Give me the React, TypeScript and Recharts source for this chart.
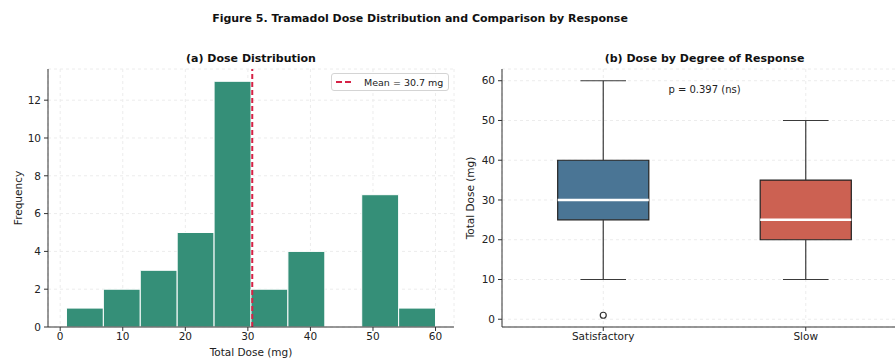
import React from "react";
import {
  ComposedChart,
  XAxis,
  YAxis,
  CartesianGrid,
  ReferenceArea,
  ReferenceLine,
  ReferenceDot,
  Scatter,
  Legend,
  Label,
} from "recharts";

// (a) histogram
const binEdges = [1, 6.9, 12.8, 18.7, 24.6, 30.5, 36.4, 42.3, 48.2, 54.1, 60];
const binCounts = [1, 2, 3, 5, 13, 2, 4, 0, 7, 1];
const meanDose = 30.7;
const histXTicks = [0, 10, 20, 30, 40, 50, 60];
const histYTicks = [0, 2, 4, 6, 8, 10, 12];

// (b) boxplot
const groups = ["Satisfactory", "Slow"];
const groupPos = [1, 2];
const whiskerLow = [10, 10];
const q1 = [25, 20];
const median = [30, 25];
const q3 = [40, 35];
const whiskerHigh = [60, 50];
const outliers = [{ x: 1, y: 1 }];
const boxYTicks = [0, 10, 20, 30, 40, 50, 60];
const pValueText = "p = 0.397 (ns)";

const boxColors = ["#4a7595", "#cc6152"];
const FONT = "'DejaVu Sans', Verdana, sans-serif";
const tick = { fill: "#222", fontSize: 10.5, fontFamily: FONT };
const axisStroke = { stroke: "#333", strokeWidth: 1 };
const labelStyle = { fontSize: 10.5, fontFamily: FONT, fill: "#222" };

const bins = binCounts.map((count, i) => ({ start: binEdges[i], end: binEdges[i + 1], count }));

const MeanLegend = () => (
  <div
    style={{
      width: 116,
      height: 16,
      border: "1px solid #d4d4d4",
      borderRadius: 3,
      background: "rgba(255,255,255,0.85)",
      display: "flex",
      alignItems: "center",
      fontSize: 9.5,
      fontFamily: FONT,
      color: "#222",
    }}
  >
    <svg width={20} height={8} style={{ marginLeft: 4, marginRight: 8 }}>
      <line x1={0} y1={4} x2={18} y2={4} stroke="#d62246" strokeWidth={2} strokeDasharray="6 3" />
    </svg>
    <span>{`Mean = ${meanDose} mg`}</span>
  </div>
);

const titleStyle: React.CSSProperties = {
  position: "absolute",
  fontFamily: FONT,
  fontWeight: "bold",
  fontSize: 11,
  color: "#111",
  textAlign: "center",
  whiteSpace: "nowrap",
};

export default function App() {
  const halfBox = 0.225;
  const halfCap = 0.1125;
  return (
    <div
      style={{
        position: "absolute",
        left: 0,
        top: 0,
        width: 895,
        height: 358,
        overflow: "hidden",
        background: "#fff",
      }}
    >
      <div style={{ ...titleStyle, left: 120, width: 600, top: 12 }}>
        Figure 5. Tramadol Dose Distribution and Comparison by Response
      </div>
      <div style={{ ...titleStyle, left: 48, width: 406, top: 52 }}>(a) Dose Distribution</div>
      <div style={{ ...titleStyle, left: 502, width: 405, top: 52 }}>(b) Dose by Degree of Response</div>

      <div style={{ position: "absolute", left: 0, top: 0 }}>
        <ComposedChart width={470} height={358} data={bins} margin={{ top: 69, right: 16, bottom: 0, left: 0 }}>
          <CartesianGrid stroke="#ececec" strokeDasharray="3 3" />
          <XAxis
            type="number"
            dataKey="start"
            domain={[-1.95, 62.95]}
            ticks={histXTicks}
            allowDataOverflow
            height={31}
            tick={tick}
            tickSize={4}
            tickMargin={2}
            axisLine={axisStroke}
            tickLine={axisStroke}
          >
            <Label value="Total Dose (mg)" position="insideBottom" offset={2} style={labelStyle} />
          </XAxis>
          <YAxis
            type="number"
            domain={[0, 13.65]}
            ticks={histYTicks}
            allowDataOverflow
            width={48}
            tick={tick}
            tickSize={4}
            tickMargin={3}
            axisLine={axisStroke}
            tickLine={axisStroke}
          >
            <Label
              value="Frequency"
              angle={-90}
              position="insideLeft"
              offset={18}
              style={{ ...labelStyle, textAnchor: "middle" }}
            />
          </YAxis>
          {bins
            .filter((b) => b.count > 0)
            .map((b, i) => (
              <ReferenceArea
                key={i}
                x1={b.start}
                x2={b.end}
                y1={0}
                y2={b.count}
                fill="#358f78"
                fillOpacity={1}
                stroke="#ffffff"
                strokeWidth={1}
              />
            ))}
          <ReferenceLine x={meanDose} stroke="#d62246" strokeWidth={2} strokeDasharray="5 3" />
          <Legend
            layout="horizontal"
            verticalAlign="middle"
            align="center"
            content={() => <MeanLegend />}
            wrapperStyle={{ top: 73, left: 331, width: 118, height: 18 }}
          />
        </ComposedChart>
      </div>

      <div style={{ position: "absolute", left: 450, top: 0 }}>
        <ComposedChart width={470} height={358} margin={{ top: 69, right: 13, bottom: 0, left: 0 }}>
          <CartesianGrid stroke="#ececec" strokeDasharray="3 3" />
          <XAxis
            type="number"
            dataKey="x"
            domain={[0.5, 2.5]}
            ticks={groupPos}
            allowDataOverflow
            height={31}
            tick={tick}
            tickSize={4}
            tickMargin={2}
            axisLine={axisStroke}
            tickLine={axisStroke}
            tickFormatter={(v: number) => groups[groupPos.indexOf(v)]}
          />
          <YAxis
            type="number"
            domain={[-1.95, 62.95]}
            ticks={boxYTicks}
            allowDataOverflow
            width={52}
            tick={tick}
            tickSize={4}
            tickMargin={3}
            axisLine={axisStroke}
            tickLine={axisStroke}
          >
            <Label
              value="Total Dose (mg)"
              angle={-90}
              position="insideLeft"
              offset={20}
              style={{ ...labelStyle, textAnchor: "middle" }}
            />
          </YAxis>
          {groupPos.map((p, i) => (
            <React.Fragment key={groups[i]}>
              <ReferenceLine segment={[{ x: p, y: whiskerLow[i] }, { x: p, y: q1[i] }]} stroke="#3a3a3a" strokeWidth={1.2} />
              <ReferenceLine segment={[{ x: p, y: q3[i] }, { x: p, y: whiskerHigh[i] }]} stroke="#3a3a3a" strokeWidth={1.2} />
              <ReferenceLine segment={[{ x: p - halfCap, y: whiskerLow[i] }, { x: p + halfCap, y: whiskerLow[i] }]} stroke="#3a3a3a" strokeWidth={1.2} />
              <ReferenceLine segment={[{ x: p - halfCap, y: whiskerHigh[i] }, { x: p + halfCap, y: whiskerHigh[i] }]} stroke="#3a3a3a" strokeWidth={1.2} />
              <ReferenceArea
                x1={p - halfBox}
                x2={p + halfBox}
                y1={q1[i]}
                y2={q3[i]}
                fill={boxColors[i]}
                fillOpacity={1}
                stroke="#222"
                strokeWidth={1.2}
              />
              <ReferenceLine segment={[{ x: p - halfBox, y: median[i] }, { x: p + halfBox, y: median[i] }]} stroke="#ffffff" strokeWidth={2.5} />
            </React.Fragment>
          ))}
          <Scatter
            data={outliers}
            dataKey="y"
            isAnimationActive={false}
            shape={(props: any) => <circle cx={props.cx} cy={props.cy} r={3} fill="#fff" stroke="#333" strokeWidth={1.2} />}
          />
          <ReferenceDot
            x={1.5}
            y={57.7}
            r={0}
            fill="none"
            stroke="none"
            label={{ value: pValueText, position: "center", fontSize: 10, fontFamily: FONT, fill: "#222" }}
          />
        </ComposedChart>
      </div>
    </div>
  );
}
